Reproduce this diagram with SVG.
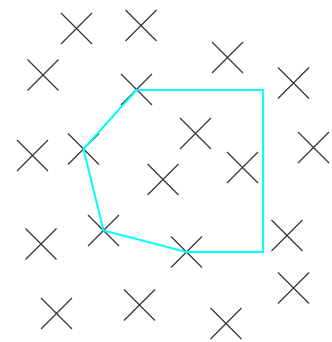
<svg xmlns="http://www.w3.org/2000/svg" width="332" height="342" viewBox="0 0 332 342">
<style>
.x{stroke:#333;stroke-width:1.2;fill:none}
.hull{stroke:#00ffff;stroke-width:2;fill:none;stroke-linejoin:miter}
</style>
<defs>
<path id="cross" d="M-15.5,-15.5L15.5,15.5M-15.5,15.5L15.5,-15.5"/>
</defs>
<rect width="332" height="342" fill="#fff"/>
<g id="points" class="x">
<use id="p1" href="#cross" x="76.5" y="28.5"/>
<use id="p2" href="#cross" x="141" y="25.5"/>
<use id="p3" href="#cross" x="43" y="75"/>
<use id="p4" href="#cross" x="136.5" y="89.5"/>
<use id="p5" href="#cross" x="32.5" y="155.5"/>
<use id="p6" href="#cross" x="83.5" y="149"/>
<use id="p7" href="#cross" x="227.5" y="57.5"/>
<use id="p8" href="#cross" x="293.5" y="83"/>
<use id="p9" href="#cross" x="195.5" y="133.5"/>
<use id="p10" href="#cross" x="313.5" y="147.5"/>
<use id="p11" href="#cross" x="242.5" y="167.5"/>
<use id="p12" href="#cross" x="163" y="179.5"/>
<use id="p13" href="#cross" x="41" y="244"/>
<use id="p14" href="#cross" x="103.5" y="230.5"/>
<use id="p15" href="#cross" x="56.5" y="313.5"/>
<use id="p16" href="#cross" x="139.5" y="305"/>
<use id="p17" href="#cross" x="186.5" y="252"/>
<use id="p18" href="#cross" x="287" y="235.5"/>
<use id="p19" href="#cross" x="293.5" y="288"/>
<use id="p20" href="#cross" x="226" y="323.5"/>
</g>
<g id="connectors">
<polygon class="hull" points="136.5,90 263,90 263,252 186.5,252 103.5,230.5 83.5,149"/>
</g>
</svg>
